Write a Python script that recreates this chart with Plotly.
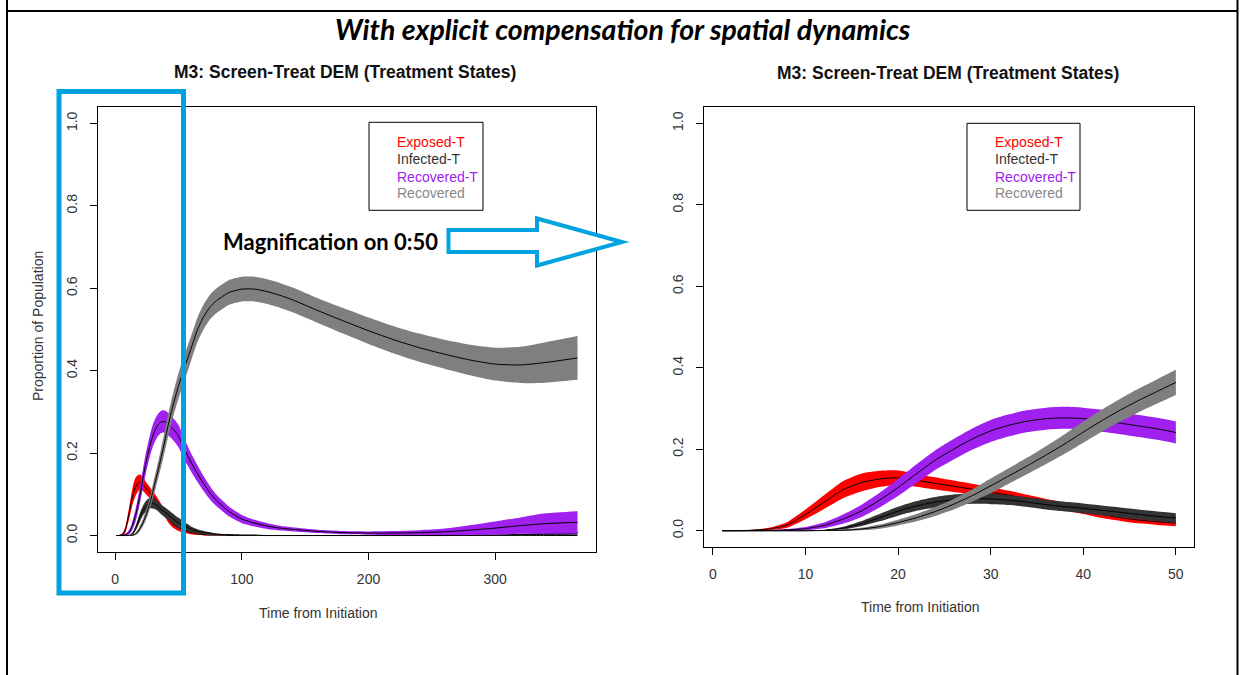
import plotly.graph_objects as go

# ---------------- data ----------------
days = [1, 2, 4, 6, 8, 10, 12, 14, 16, 18, 20, 22, 24, 26, 28, 30, 32, 34, 36, 38,
        40, 42, 44, 46, 48, 50, 55, 60, 65, 70, 75, 80, 90, 100, 110, 120, 130, 140,
        160, 180, 200, 220, 240, 260, 280, 300, 320, 340, 365]

exposed_t = [0, 0, 0.001, 0.004, 0.014, 0.04, 0.07, 0.1, 0.118, 0.127, 0.13, 0.124, 0.116,
             0.109, 0.102, 0.094, 0.087, 0.077, 0.068, 0.059, 0.05, 0.04, 0.032, 0.026,
             0.022, 0.019, 0.012, 0.007, 0.004, 0.002, 0.001, 0.001, 0, 0, 0, 0, 0, 0,
             0, 0, 0, 0, 0, 0, 0, 0, 0, 0, 0]
exposed_t_spread = [0, 0, 0.001, 0.003, 0.007, 0.012, 0.017, 0.021, 0.022, 0.02, 0.018,
                    0.016, 0.015, 0.014, 0.013, 0.012, 0.011, 0.011, 0.01, 0.01, 0.009,
                    0.009, 0.008, 0.008, 0.008, 0.008, 0.006, 0.004, 0.003, 0.002, 0.001,
                    0.001, 0, 0, 0, 0, 0, 0, 0, 0, 0, 0, 0, 0, 0, 0, 0, 0, 0]

infected_t = [0, 0, 0, 0, 0, 0, 0.001, 0.006, 0.017, 0.032, 0.048, 0.061, 0.07, 0.076,
              0.079, 0.078, 0.075, 0.07, 0.064, 0.059, 0.055, 0.05, 0.045, 0.04, 0.035,
              0.031, 0.023, 0.015, 0.01, 0.007, 0.005, 0.003, 0.002, 0.001, 0.001, 0, 0,
              0, 0, 0, 0, 0, 0, 0, 0.001, 0.001, 0.002, 0.004, 0.006]
infected_t_spread = [0, 0, 0, 0, 0, 0, 0.001, 0.003, 0.006, 0.009, 0.011, 0.012, 0.013,
                     0.013, 0.013, 0.013, 0.012, 0.012, 0.012, 0.012, 0.012, 0.012, 0.012,
                     0.012, 0.012, 0.012, 0.009, 0.007, 0.005, 0.004, 0.003, 0.002, 0.001,
                     0.001, 0.001, 0, 0, 0, 0, 0, 0, 0, 0, 0, 0.001, 0.001, 0.002, 0.003,
                     0.004]

recovered_t = [0, 0, 0, 0.0005, 0.002, 0.005, 0.013, 0.028, 0.048, 0.075, 0.106, 0.14,
               0.173, 0.2, 0.225, 0.245, 0.259, 0.269, 0.275, 0.277, 0.275, 0.27, 0.264,
               0.257, 0.25, 0.241, 0.207, 0.177, 0.15, 0.125, 0.103, 0.085, 0.058, 0.04,
               0.03, 0.023, 0.018, 0.015, 0.01, 0.007, 0.006, 0.006, 0.007, 0.009, 0.013,
               0.018, 0.024, 0.029, 0.032]
recovered_t_spread = [0, 0, 0, 0.001, 0.002, 0.004, 0.007, 0.011, 0.015, 0.018, 0.021,
                      0.023, 0.024, 0.025, 0.026, 0.027, 0.027, 0.027, 0.027, 0.027,
                      0.027, 0.027, 0.027, 0.027, 0.027, 0.027, 0.025, 0.022, 0.02, 0.018,
                      0.016, 0.014, 0.012, 0.01, 0.008, 0.007, 0.006, 0.005, 0.004, 0.004,
                      0.004, 0.005, 0.006, 0.008, 0.012, 0.016, 0.02, 0.025, 0.027]

recovered = [0, 0, 0, 0, 0, 0, 0.0005, 0.001, 0.004, 0.01, 0.02, 0.032, 0.047, 0.065,
             0.086, 0.11, 0.135, 0.16, 0.186, 0.213, 0.242, 0.27, 0.296, 0.32, 0.342,
             0.364, 0.41, 0.455, 0.5, 0.532, 0.555, 0.57, 0.59, 0.598, 0.598, 0.592,
             0.583, 0.572, 0.546, 0.521, 0.497, 0.475, 0.456, 0.44, 0.426, 0.416, 0.414,
             0.42, 0.431]
recovered_spread = [0, 0, 0, 0, 0, 0, 0.001, 0.002, 0.003, 0.005, 0.007, 0.009, 0.011,
                    0.013, 0.015, 0.018, 0.019, 0.02, 0.022, 0.024, 0.026, 0.027, 0.028,
                    0.029, 0.03, 0.031, 0.031, 0.03, 0.03, 0.03, 0.03, 0.03, 0.03, 0.03,
                    0.03, 0.03, 0.03, 0.03, 0.03, 0.031, 0.032, 0.033, 0.034, 0.035,
                    0.037, 0.04, 0.044, 0.049, 0.053]

series_names = ["Exposed-T", "Infected-T", "Recovered-T", "Recovered"]
band_colors = ["#FF0000", "#333333", "#A020F0", "#7F7F7F"]
legend_colors = ["#FF0000", "#333333", "#A020F0", "#888888"]
medians = [exposed_t, infected_t, recovered_t, recovered]
spreads = [exposed_t_spread, infected_t_spread, recovered_t_spread, recovered_spread]

x_ticks_full = [0, 100, 200, 300]
x_ticks_zoom = [0, 10, 20, 30, 40, 50]
y_ticks = [0.0, 0.2, 0.4, 0.6, 0.8, 1.0]
y_tick_labels = ["0.0", "0.2", "0.4", "0.6", "0.8", "1.0"]
zoom_max_day = 50

main_title = "With explicit compensation for spatial dynamics"
panel_title = "M3: Screen-Treat DEM (Treatment States)"
x_title = "Time from Initiation"
y_title = "Proportion of Population"
magnify_text = "Magnification on 0:50"

# ---------------- figure ----------------
W, H = 1240, 675


def px(x):
    return x / W


def py(y):
    return 1 - y / H


fig = go.Figure()

for panel, (xa, ya, limit) in enumerate([("x", "y", None), ("x2", "y2", zoom_max_day)]):
    for name, col, med, spr in zip(series_names, band_colors, medians, spreads):
        xs, lo, hi, md = [], [], [], []
        for d, m, s in zip(days, med, spr):
            if limit is not None and d > limit:
                continue
            xs.append(d)
            lo.append(m - s)
            hi.append(m + s)
            md.append(m)
        fig.add_trace(go.Scatter(x=xs, y=lo, mode="lines", line=dict(width=0, color=col, shape="spline", smoothing=0.6),
                                 xaxis=xa, yaxis=ya, showlegend=False, hoverinfo="skip"))
        fig.add_trace(go.Scatter(x=xs, y=hi, mode="lines", line=dict(width=0, color=col, shape="spline", smoothing=0.6),
                                 fill="tonexty", fillcolor=col, xaxis=xa, yaxis=ya,
                                 showlegend=False, hoverinfo="skip"))
        fig.add_trace(go.Scatter(x=xs, y=md, mode="lines", name=name,
                                 line=dict(width=1, color="black", shape="spline", smoothing=0.6),
                                 xaxis=xa, yaxis=ya, showlegend=False))

tick_font = dict(family="Liberation Sans, Arial", size=14, color="#333333")
axis_common = dict(showline=True, mirror=True, linecolor="black", linewidth=1,
                   ticks="outside", ticklen=7, tickwidth=1, tickcolor="black",
                   showgrid=False, zeroline=False, tickfont=tick_font, ticklabelstandoff=7)

fig.update_layout(
    width=W, height=H, autosize=False,
    margin=dict(l=0, r=0, t=0, b=0),
    paper_bgcolor="white", plot_bgcolor="white",
    showlegend=False,
    xaxis=dict(domain=[px(98), px(596)], range=[-13.6, 379.6], tickvals=x_ticks_full,
               anchor="y", **axis_common),
    yaxis=dict(domain=[py(552), py(107)], range=[-0.04, 1.04], tickvals=y_ticks,
               ticktext=y_tick_labels, tickangle=-90, anchor="x", **axis_common),
    xaxis2=dict(domain=[px(704), px(1194)], range=[-0.96, 51.96], tickvals=x_ticks_zoom,
                anchor="y2", **axis_common),
    yaxis2=dict(domain=[py(547), py(107)], range=[-0.04, 1.04], tickvals=y_ticks,
                ticktext=y_tick_labels, tickangle=-90, anchor="x2", **axis_common),
)

blue = "#00A3E0"
shapes = [
    # outer frame
    dict(type="line", xref="paper", yref="paper", x0=px(7), x1=px(7), y0=py(0), y1=py(675),
         line=dict(color="black", width=2)),
    dict(type="line", xref="paper", yref="paper", x0=px(1237.5), x1=px(1237.5), y0=py(0), y1=py(675),
         line=dict(color="black", width=2)),
    dict(type="line", xref="paper", yref="paper", x0=px(7), x1=px(1237.5), y0=py(11), y1=py(11),
         line=dict(color="black", width=2)),
    # blue magnification rectangle
    dict(type="rect", xref="paper", yref="paper", x0=px(59), x1=px(183.5), y0=py(593), y1=py(91.5),
         line=dict(color=blue, width=5), layer="above"),
]
# arrow outline
arrow_pts = [(448.5, 230), (537, 230), (537, 218.5), (622, 242), (537, 265.5), (537, 252), (448.5, 252)]
path = "M " + " L ".join(f"{px(a):.5f},{py(b):.5f}" for a, b in arrow_pts) + " Z"
shapes.append(dict(type="path", xref="paper", yref="paper", path=path, fillcolor="white",
                   line=dict(color=blue, width=4), layer="above"))
# legend boxes
for (x0, x1, y0, y1) in [(369, 483, 122.3, 210.3), (967, 1080, 123.3, 210.3)]:
    shapes.append(dict(type="rect", xref="paper", yref="paper", x0=px(x0), x1=px(x1),
                       y0=py(y1), y1=py(y0), line=dict(color="black", width=1),
                       fillcolor="white", layer="above"))

annotations = [
    dict(text=f"<b><i>{main_title}</i></b>", x=px(623), y=py(29), xref="paper", yref="paper",
         showarrow=False, xanchor="center", yanchor="middle",
         font=dict(family="Lato", size=28.5, color="black")),
    dict(text=f"<b>{panel_title}</b>", x=px(345), y=py(72), xref="paper", yref="paper",
         showarrow=False, xanchor="center", yanchor="middle",
         font=dict(family="Liberation Sans, Arial", size=17.5, color="#111111")),
    dict(text=f"<b>{panel_title}</b>", x=px(948), y=py(73), xref="paper", yref="paper",
         showarrow=False, xanchor="center", yanchor="middle",
         font=dict(family="Liberation Sans, Arial", size=17.5, color="#111111")),
    dict(text=x_title, x=px(318), y=py(613), xref="paper", yref="paper", showarrow=False,
         xanchor="center", yanchor="middle", font=tick_font),
    dict(text=x_title, x=px(920), y=py(607), xref="paper", yref="paper", showarrow=False,
         xanchor="center", yanchor="middle", font=tick_font),
    dict(text=y_title, x=px(38), y=py(326), xref="paper", yref="paper", showarrow=False,
         textangle=-90, xanchor="center", yanchor="middle", font=tick_font),
    dict(text=f"<b>{magnify_text}</b>", x=px(330), y=py(242), xref="paper", yref="paper",
         showarrow=False, xanchor="center", yanchor="middle",
         font=dict(family="Lato", size=22, color="black")),
]
legend_rows_y = [142, 159, 176.7, 193.5]
for lx in [395, 993]:
    for name, col, ly in zip(series_names, legend_colors, legend_rows_y):
        annotations.append(dict(text=name, x=px(lx), y=py(ly), xref="paper", yref="paper",
                                showarrow=False, xanchor="left", yanchor="middle",
                                font=dict(family="Liberation Sans, Arial", size=14, color=col)))

fig.update_layout(shapes=shapes, annotations=annotations)
fig.write_html("out.html")
